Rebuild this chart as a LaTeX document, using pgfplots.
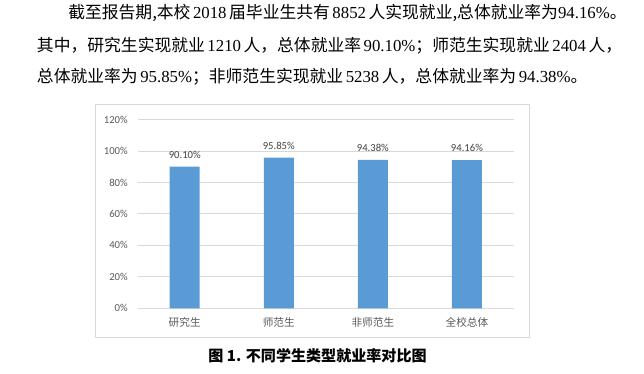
\documentclass[border=0pt]{standalone}
\usepackage{pgfplots}
\pgfplotsset{compat=1.18}
\usepackage{fontspec}
\setmainfont{Carlito}
\newfontfamily\cjk{Noto Sans CJK SC}
\newfontfamily\lser{Liberation Serif}
\newcommand\n[1]{{\lser #1}}
\XeTeXlinebreaklocale "zh"
\XeTeXlinebreakskip=0pt plus 6pt minus 1pt
\definecolor{barblue}{HTML}{5B9BD5}
\definecolor{gridgray}{HTML}{D9D9D9}
\definecolor{ticktext}{HTML}{595959}
\definecolor{labeltext}{HTML}{404040}
\begin{document}
\begin{tikzpicture}[x=0.75pt,y=0.75pt]
\path[use as bounding box] (0,0) rectangle (644,374);
% body text
\node[anchor=west,inner sep=0pt,font=\cjk\fontsize{12.6pt}{14pt}\selectfont] at (68,361) {\hbox to 395.25pt{截至报告期,本校 \n{2018} 届毕业生共有 \n{8852} 人实现就业,总体就业率为\n{94.16\%}。}};
\node[anchor=west,inner sep=0pt,font=\cjk\fontsize{12.6pt}{14pt}\selectfont] at (36.7,328) {\hbox to 405.75pt{其中，研究生实现就业 \n{1210} 人，总体就业率 \n{90.10\%}；师范生实现就业 \n{2404} 人，}};
\node[anchor=west,inner sep=0pt,font=\cjk\fontsize{12.6pt}{14pt}\selectfont] at (36.7,297) {\hbox to 387pt{总体就业率为 \n{95.85\%}；非师范生实现就业 \n{5238} 人，总体就业率为 \n{94.38\%}。}};
% chart frame
\draw[gridgray,line width=0.75pt] (95.5,269.3) rectangle (529,36.3);
\begin{axis}[
  at={(103.28pt,49.28pt)}, anchor=south west,
  scale only axis, width=282.2pt, height=141.5pt,
  ymin=0, ymax=120, xmin=-0.5, xmax=3.5,
  ytick={0,20,...,120},
  yticklabels={0\%,20\%,40\%,60\%,80\%,100\%,120\%},
  xtick=data,
  xticklabels={研究生,师范生,非师范生,全校总体},
  axis line style={draw=none},
  major tick length=0pt,
  ymajorgrids, grid style={gridgray,line width=0.75pt},
  yticklabel style={font=\fontsize{8pt}{9pt}\selectfont,text=ticktext,anchor=east,inner sep=0pt,xshift=-7.3pt},
  xticklabel style={font=\cjk\fontsize{8pt}{9pt}\selectfont,text=ticktext,anchor=center,inner sep=0pt,yshift=-10.3pt},
  ybar, bar width=22.5pt,
  /pgf/number format/assume math mode=true,
  nodes near coords={\pgfmathprintnumber[fixed,fixed zerofill,precision=2,assume math mode=true]{\pgfplotspointmeta}\%},
  every node near coord/.append style={font=\fontsize{8pt}{9pt}\selectfont,text=labeltext,anchor=base,inner sep=0pt,yshift=6.4pt},
  clip=false,
]
\addplot[fill=barblue,draw=none] coordinates {(0,90.10) (1,95.85) (2,94.38) (3,94.16)};
\end{axis}
% caption
\node[inner sep=0pt,font=\cjk\bfseries\fontsize{11.3pt}{13pt}\selectfont] at (317.5,18) {图 1. 不同学生类型就业率对比图};
\end{tikzpicture}
\end{document}
